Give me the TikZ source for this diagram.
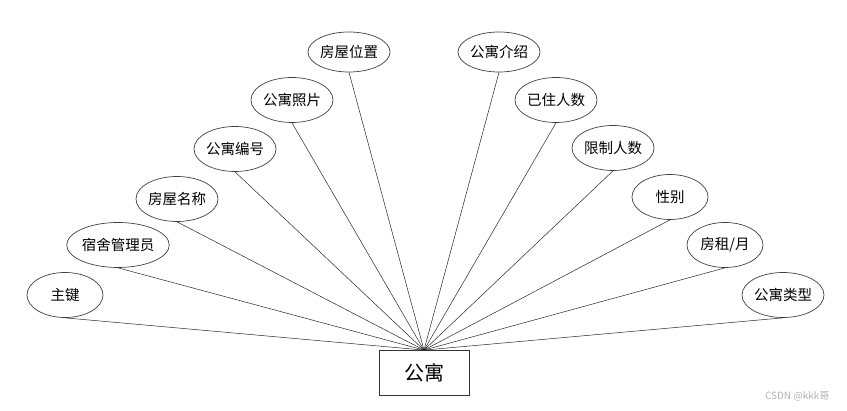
\documentclass[tikz,border=0pt]{standalone}
\usepackage{fontspec}
\setmainfont{Liberation Sans}
\newfontfamily\cjk{Noto Sans CJK SC}
\usetikzlibrary{shapes.geometric}
\tikzset{
  attr/.style={ellipse,draw=black!75,line width=0.7pt,minimum width=76pt,minimum height=45pt,inner sep=0pt,font=\cjk\fontsize{14.5}{14.5}\selectfont},
  ent/.style={rectangle,draw=black!80,line width=0.8pt,minimum width=90pt,minimum height=45pt,inner sep=0pt,font=\cjk\fontsize{20}{20}\selectfont},
  link/.style={draw=black!85,line width=0.5pt}
}
\begin{document}
\begin{tikzpicture}[x=1pt,y=-1pt]
\useasboundingbox (0,0) rectangle (847,411);
\node[ent] (e) at (424,373) {公寓};
\node[attr] (a1) at (65,295) {主键};
\node[attr,minimum width=86pt] (a2) at (118,245) {宿舍管理员};
\node[attr] (a3) at (177,199) {房屋名称};
\node[attr] (a4) at (235,149) {公寓编号};
\node[attr] (a5) at (292,100) {公寓照片};
\node[attr,minimum height=40pt] (a6) at (349,52) {房屋位置};
\node[attr,minimum height=40pt] (a7) at (499,52) {公寓介绍};
\node[attr] (a8) at (556,100) {已住人数};
\node[attr] (a9) at (613,148) {限制人数};
\node[attr] (a10) at (670,197) {性别};
\node[attr] (a11) at (725,245) {房租/月};
\node[attr] (a12) at (783,295) {公寓类型};
\foreach \i in {1,...,12} {\draw[link] (a\i.south) -- (e.north);}
\node[text=black!30,font=\cjk\fontsize{10}{10}\selectfont,anchor=east] (wm) at (833,396) {CSDN @kkk哥};
\end{tikzpicture}
\end{document}
